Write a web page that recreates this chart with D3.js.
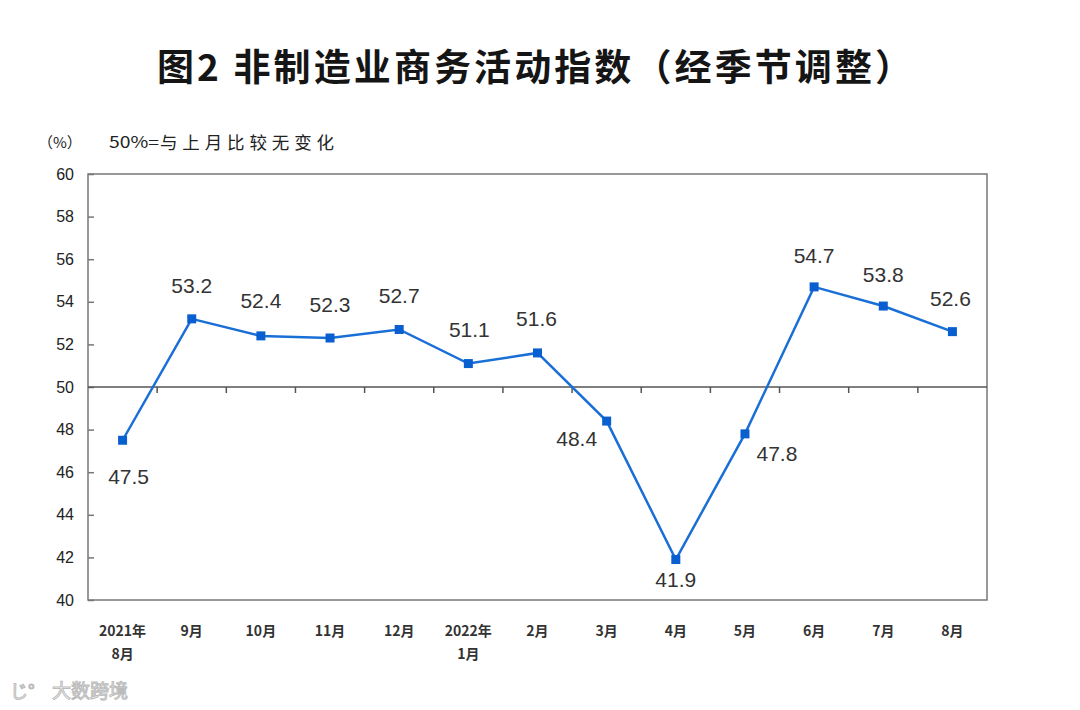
<!DOCTYPE html>
<html><head><meta charset="utf-8">
<script src="https://cdn.jsdelivr.net/npm/d3@7"></script>
<style>body{margin:0;background:#fff}</style>
</head><body><svg id="c" width="1080" height="710"></svg>
<script>
const categories = ["2021年\n8月","9月","10月","11月","12月","2022年\n1月","2月","3月","4月","5月","6月","7月","8月"];
const values = [47.5,53.2,52.4,52.3,52.7,51.1,51.6,48.4,41.9,47.8,54.7,53.8,52.6];
const yTicks = [40,42,44,46,48,50,52,54,56,58,60];
// label offsets (dx, dy) relative to point
const labelPos = [[6,37],[0,-33],[0,-35],[0,-33],[0,-33],[1,-34],[-1,-34],[-30,18],[0,20],[32,20],[0,-31],[0,-31],[-2,-33]];

const svg = d3.select("#c");
const L=88,R=987,T=174,B=600;
const x = d3.scaleBand().domain(d3.range(categories.length)).range([L,R]);
const y = d3.scaleLinear().domain([40,60]).range([B,T]);
const cx = i => x(i)+x.bandwidth()/2;

svg.append("text").attr("x",157).attr("y",81)
  .attr("textLength",755).attr("lengthAdjust","spacing")
  .attr("font-family","Noto Sans CJK SC").attr("font-weight","bold").attr("font-size",37).attr("fill","#151515")
  .text("图2 非制造业商务活动指数（经季节调整）");
svg.append("text").attr("x",38).attr("y",148).attr("font-family","Noto Sans CJK SC").attr("font-size",15).attr("fill","#222").text("（%）");
svg.append("text").attr("x",109).attr("y",148).attr("textLength",50).attr("lengthAdjust","spacingAndGlyphs")
  .attr("font-family","Noto Sans CJK SC").attr("font-size",16).attr("fill","#222").text("50%=");
svg.append("text").attr("x",160).attr("y",149).attr("textLength",174).attr("lengthAdjust","spacing")
  .attr("font-family","Noto Sans CJK SC").attr("font-size",17.5).attr("fill","#222").text("与上月比较无变化");

// frame
svg.append("rect").attr("x",L).attr("y",T).attr("width",R-L).attr("height",B-T)
  .attr("fill","none").attr("stroke","#777").attr("stroke-width",1.5);

// y axis
const ya = svg.append("g").attr("transform",`translate(${L},0)`)
  .call(d3.axisLeft(y).tickValues(yTicks).tickSize(-6).tickPadding(14).tickFormat(d3.format("d")));
ya.select(".domain").remove();
ya.selectAll("line").attr("stroke","#777").attr("stroke-width",1.5);
ya.selectAll("text").attr("font-family","Liberation Sans, Arial").attr("font-size",16).attr("fill","#222");

// 50 baseline with ticks at category boundaries
const y50 = y(50);
svg.append("line").attr("x1",L).attr("x2",R).attr("y1",y50).attr("y2",y50).attr("stroke","#555").attr("stroke-width",1.5);
svg.selectAll(".bt").data(d3.range(1,categories.length)).join("line")
  .attr("x1",i=>x(i)).attr("x2",i=>x(i)).attr("y1",y50).attr("y2",y50+6).attr("stroke","#555").attr("stroke-width",1.5);

// x labels
const xl = svg.append("g");
categories.forEach((c,i)=>{
  const t = xl.append("text").attr("x",cx(i)).attr("y",636).attr("text-anchor","middle")
    .attr("font-family","Noto Sans CJK SC").attr("font-size",14).attr("font-weight","bold").attr("fill","#333");
  c.split("\n").forEach((s,j)=>t.append("tspan").attr("x",cx(i)).attr("dy",j?23:0).text(s));
});

// line
const line = d3.line().x((d,i)=>cx(i)).y(d=>y(d));
svg.append("path").datum(values).attr("d",line).attr("fill","none").attr("stroke","#1a6fd6").attr("stroke-width",2.5);
svg.selectAll(".m").data(values).join("rect")
  .attr("x",(d,i)=>cx(i)-4.5).attr("y",d=>y(d)-4.5).attr("width",9).attr("height",9).attr("fill","#0a5fd0");

// data labels
svg.selectAll(".lb").data(values).join("text")
  .attr("x",(d,i)=>cx(i)+labelPos[i][0]).attr("y",(d,i)=>y(d)+labelPos[i][1]+7)
  .attr("text-anchor","middle").attr("font-family","Liberation Sans, Arial").attr("font-size",21).attr("fill","#333")
  .text(d=>d.toFixed(1));

// watermark
svg.append("text").attr("x",52).attr("y",698).attr("font-family","Noto Sans CJK SC").attr("font-size",19)
  .attr("fill","#fff").attr("stroke","#bbb").attr("stroke-width",1).text("大数跨境");
svg.append("text").attr("x",10).attr("y",698).attr("font-family","Noto Sans CJK SC").attr("font-size",18)
  .attr("fill","#fff").attr("stroke","#bbb").attr("stroke-width",1).text("じ°");
</script></body></html>
